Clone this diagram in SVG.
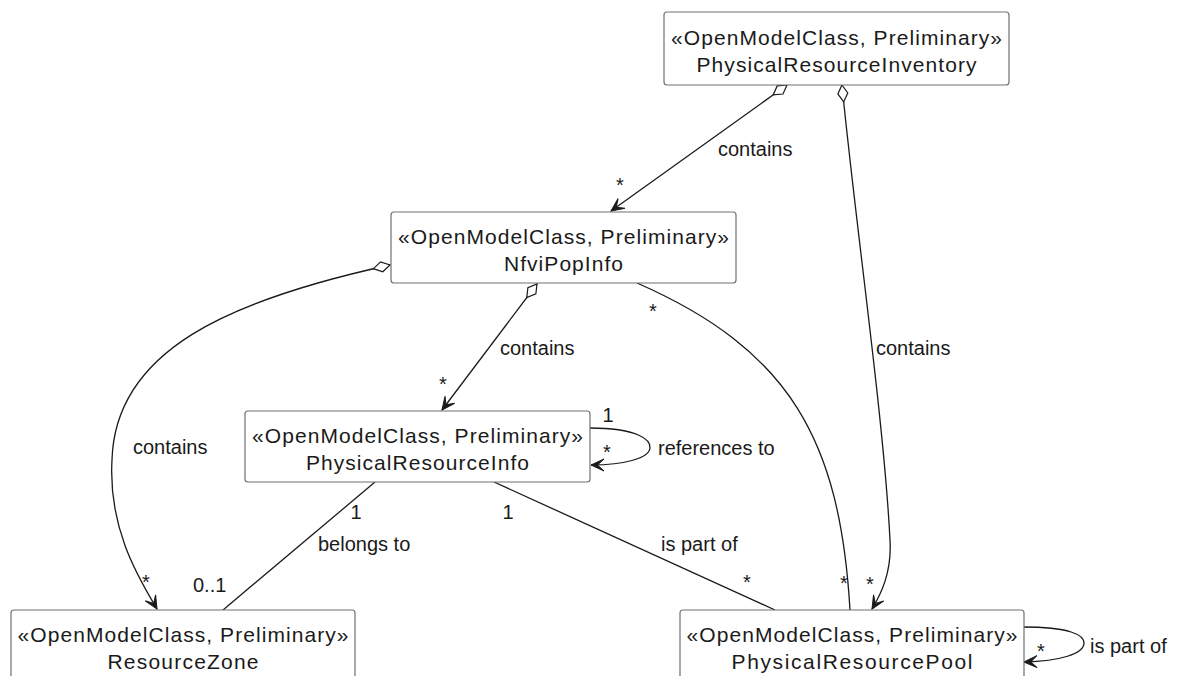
<svg xmlns="http://www.w3.org/2000/svg" width="1182" height="676" viewBox="0 0 1182 676">
<style>
.box{fill:#ffffff;stroke:#707070;stroke-width:1.2}
.bt{font-family:"Liberation Sans",Arial,sans-serif;font-size:21px;fill:#1a1a1a;text-anchor:middle}
.lb{font-family:"Liberation Sans",Arial,sans-serif;font-size:20px;fill:#1a1a1a}
.m{text-anchor:middle}
.ln{fill:none;stroke:#1a1a1a;stroke-width:1.3}
</style>
<defs>
<marker id="arrow" markerUnits="userSpaceOnUse" markerWidth="20" markerHeight="20" refX="0" refY="0" orient="auto" overflow="visible">
<path d="M0,0 L-13,-6 L-6.5,0 L-13,6 Z" fill="#1a1a1a" stroke="#1a1a1a" stroke-width="1" stroke-linejoin="miter"/>
</marker>
<marker id="diamond" markerUnits="userSpaceOnUse" markerWidth="24" markerHeight="20" refX="0" refY="0" orient="auto" overflow="visible">
<path d="M0,0 L8.5,-5 L17,0 L8.5,5 Z" fill="#ffffff" stroke="#1a1a1a" stroke-width="1.2"/>
</marker>
</defs>
<rect width="1182" height="676" fill="#ffffff"/>
<g id="connectors">
<path class="ln" d="M787,85 L611,211" marker-start="url(#diamond)" marker-end="url(#arrow)"/>
<path class="ln" d="M842,85 C855,220 884,420 890,540 C892,572 881,594 872,609" marker-start="url(#diamond)" marker-end="url(#arrow)"/>
<path class="ln" d="M637,283 C790,350 840,440 850,610"/>
<path class="ln" d="M537,284 L442,410" marker-start="url(#diamond)" marker-end="url(#arrow)"/>
<path class="ln" d="M390,265 C230,300 115,350 112,460 C108,530 140,580 157,609" marker-start="url(#diamond)" marker-end="url(#arrow)"/>
<path class="ln" d="M590,428 C638,428 651,440 650,448 C649,458 625,465 591,465" marker-end="url(#arrow)"/>
<path class="ln" d="M375,482 L223,610"/>
<path class="ln" d="M494,482 L775,610"/>
<path class="ln" d="M1023,627 C1070,627 1084,635 1084,643 C1084,654 1060,661 1024,662" marker-end="url(#arrow)"/>
<text class="lb" x="718" y="156">contains</text>
<text class="lb m" x="620" y="192">*</text>
<text class="lb" x="876" y="355">contains</text>
<text class="lb m" x="870" y="591">*</text>
<text class="lb m" x="653" y="318">*</text>
<text class="lb m" x="844" y="590">*</text>
<text class="lb" x="500" y="355">contains</text>
<text class="lb m" x="443" y="391">*</text>
<text class="lb" x="133" y="454">contains</text>
<text class="lb m" x="146" y="589">*</text>
<text class="lb m" x="608" y="422">1</text>
<text class="lb m" x="607" y="459">*</text>
<text class="lb" x="658" y="455">references to</text>
<text class="lb m" x="356" y="519">1</text>
<text class="lb" x="318" y="551">belongs to</text>
<text class="lb" x="193" y="592">0..1</text>
<text class="lb m" x="508" y="519">1</text>
<text class="lb" x="661" y="551">is part of</text>
<text class="lb m" x="747" y="589">*</text>
<text class="lb m" x="1041" y="658">*</text>
<text class="lb" x="1090" y="653">is part of</text>
</g>
<g id="PhysicalResourceInventory">
<rect class="box" x="664" y="12" width="345" height="73" rx="3"/>
<text class="bt" x="836.5" y="45" textLength="331" lengthAdjust="spacing">«OpenModelClass, Preliminary»</text>
<text class="bt" x="836.5" y="72" textLength="280" lengthAdjust="spacing">PhysicalResourceInventory</text>
</g>
<g id="NfviPopInfo">
<rect class="box" x="391" y="212" width="345" height="71" rx="3"/>
<text class="bt" x="563.5" y="244" textLength="331" lengthAdjust="spacing">«OpenModelClass, Preliminary»</text>
<text class="bt" x="563.5" y="271" textLength="119" lengthAdjust="spacing">NfviPopInfo</text>
</g>
<g id="PhysicalResourceInfo">
<rect class="box" x="245" y="411" width="345" height="71" rx="3"/>
<text class="bt" x="417.5" y="443" textLength="331" lengthAdjust="spacing">«OpenModelClass, Preliminary»</text>
<text class="bt" x="417.5" y="470" textLength="223" lengthAdjust="spacing">PhysicalResourceInfo</text>
</g>
<g id="ResourceZone">
<rect class="box" x="11" y="610" width="344" height="72" rx="3"/>
<text class="bt" x="183" y="642" textLength="331" lengthAdjust="spacing">«OpenModelClass, Preliminary»</text>
<text class="bt" x="183" y="669" textLength="151" lengthAdjust="spacing">ResourceZone</text>
</g>
<g id="PhysicalResourcePool">
<rect class="box" x="680" y="610" width="344" height="72" rx="3"/>
<text class="bt" x="852" y="642" textLength="331" lengthAdjust="spacing">«OpenModelClass, Preliminary»</text>
<text class="bt" x="852" y="669" textLength="241" lengthAdjust="spacing">PhysicalResourcePool</text>
</g>
</svg>
